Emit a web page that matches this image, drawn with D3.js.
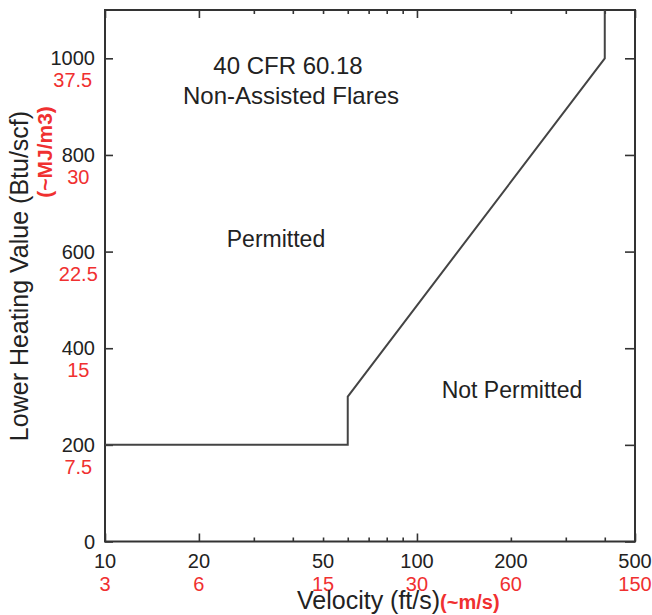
<!DOCTYPE html>
<html>
<head>
<meta charset="utf-8">
<script src="https://cdn.jsdelivr.net/npm/d3@7"></script>
<style>
  html, body { margin: 0; padding: 0; background: #fff; }
  svg { display: block; font-family: "Liberation Sans", Arial, sans-serif; }
</style>
</head>
<body>
<svg id="chart" width="652" height="615"></svg>
<script>
// ---- data ----
const velocity = [10, 60, 60, 400, 400];          // ft/s
const heatingValue = [200, 200, 300, 1000, 1100]; // Btu/scf
const yTicks = [0, 200, 400, 600, 800, 1000];
const yTicksMJ = ["", "7.5", "15", "22.5", "30", "37.5"];
const xTicks = [10, 20, 50, 100, 200, 500];
const xTicksMS = ["3", "6", "15", "30", "60", "150"];
const xMajorTicks = [10, 20, 100, 500];
const xMinorTicks = [30, 40, 50, 60, 70, 80, 90, 200, 300, 400];
const titleLines = ["40 CFR 60.18", "Non-Assisted Flares"];

const svg = d3.select("#chart");
const L = 105, R = 635, T = 10, B = 541.5;
const x = d3.scaleLog().domain([10, 500]).range([L, R]);
const y = d3.scaleLinear().domain([0, 1100]).range([B, T]);

const axisColor = "#333";
const red = "#f03030";

function styleAxis(g) {
  g.select(".domain").remove();
  g.selectAll(".tick line").attr("stroke", axisColor).attr("stroke-width", 1.6);
  g.selectAll(".tick text").remove();
}
svg.append("g").attr("transform", `translate(0,${B})`)
  .call(d3.axisBottom(x).tickValues(xMajorTicks).tickSize(-8).tickFormat(""))
  .call(styleAxis);
svg.append("g").attr("transform", `translate(0,${B})`)
  .call(d3.axisBottom(x).tickValues(xMinorTicks).tickSize(-4).tickFormat(""))
  .call(styleAxis);
svg.append("g").attr("transform", `translate(0,${T})`)
  .call(d3.axisTop(x).tickValues(xMajorTicks).tickSize(-8).tickFormat(""))
  .call(styleAxis);
svg.append("g").attr("transform", `translate(0,${T})`)
  .call(d3.axisTop(x).tickValues(xMinorTicks).tickSize(-4).tickFormat(""))
  .call(styleAxis);
svg.append("g").attr("transform", `translate(${L},0)`)
  .call(d3.axisLeft(y).tickValues(yTicks).tickSize(-8).tickFormat(""))
  .call(styleAxis);
svg.append("g").attr("transform", `translate(${R},0)`)
  .call(d3.axisRight(y).tickValues(yTicks).tickSize(-10).tickFormat(""))
  .call(styleAxis);

// frame
svg.append("rect")
  .attr("x", L).attr("y", T).attr("width", R - L).attr("height", B - T)
  .attr("fill", "none").attr("stroke", axisColor).attr("stroke-width", 2);

// limit line
const pts = velocity.map((v, i) => [v, heatingValue[i]]);
svg.append("path")
  .datum(pts)
  .attr("d", d3.line().x(d => x(d[0])).y(d => y(d[1])))
  .attr("fill", "none").attr("stroke", "#444").attr("stroke-width", 2);

// y tick labels
const yl = svg.append("g").attr("font-size", 20);
yTicks.forEach((v, i) => {
  const t = yl.append("text")
    .attr("x", 95).attr("y", y(v) + 7)
    .attr("text-anchor", "end").attr("fill", "#222").text(v);
  const w = t.node().getComputedTextLength();
  if (yTicksMJ[i]) {
    yl.append("text")
      .attr("x", 95 - w / 2).attr("y", y(v) + 29)
      .attr("text-anchor", "middle").attr("fill", red).text(yTicksMJ[i]);
  }
});

// x tick labels
const xl = svg.append("g").attr("font-size", 20).attr("text-anchor", "middle");
xTicks.forEach((v, i) => {
  xl.append("text").attr("x", x(v)).attr("y", 568).attr("fill", "#222").text(v);
  xl.append("text").attr("x", x(v)).attr("y", 591).attr("fill", red).text(xTicksMS[i]);
});

// x axis title
const xt = svg.append("text").attr("x", 297).attr("y", 609);
xt.append("tspan").attr("font-size", 25).attr("fill", "#222").text("Velocity (ft/s)");
xt.append("tspan").attr("font-size", 20).attr("font-weight", "bold").attr("fill", red).text("(~m/s)");

// y axis title
svg.append("text")
  .attr("transform", `translate(28,${276}) rotate(-90)`)
  .attr("text-anchor", "middle").attr("font-size", 25).attr("fill", "#222")
  .text("Lower Heating Value (Btu/scf)");
svg.append("text")
  .attr("transform", `translate(52,${152}) rotate(-90)`)
  .attr("text-anchor", "middle").attr("font-size", 21).attr("font-weight", "bold").attr("fill", red)
  .text("(~MJ/m3)");

// annotations
const ann = svg.append("g").attr("fill", "#222").attr("text-anchor", "middle");
ann.append("text").attr("x", 288).attr("y", 74).attr("font-size", 24).text(titleLines[0]);
ann.append("text").attr("x", 291).attr("y", 104).attr("font-size", 24).text(titleLines[1]);
ann.append("text").attr("x", 276).attr("y", 247).attr("font-size", 23).text("Permitted");
ann.append("text").attr("x", 512).attr("y", 398).attr("font-size", 23).text("Not Permitted");
</script>
</body>
</html>
